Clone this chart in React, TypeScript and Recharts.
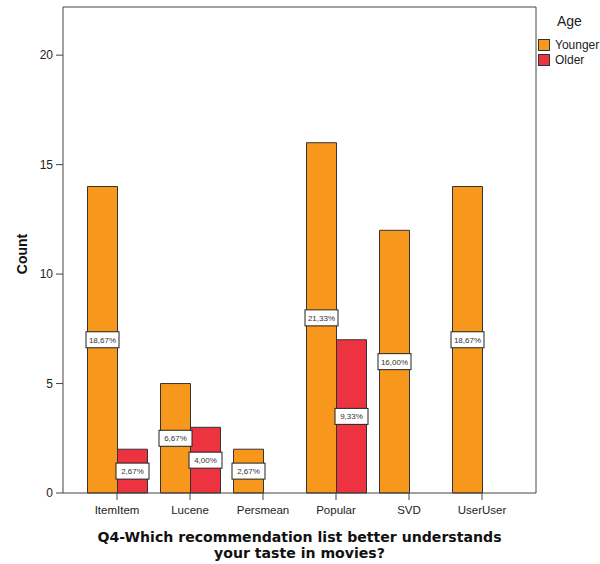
import { Bar, BarChart, Label, LabelList, Legend, XAxis, YAxis } from "recharts";

const categories = ["ItemItem", "Lucene", "Persmean", "Popular", "SVD", "UserUser"];
const younger = [14, 5, 2, 16, 12, 14];
const older = [2, 3, null, 7, null, null];
const youngerPct = ["18,67%", "6,67%", "2,67%", "21,33%", "16,00%", "18,67%"];
const olderPct = ["2,67%", "4,00%", null, "9,33%", null, null];
const yTicks = [0, 5, 10, 15, 20];

const ORANGE = "#F7981D";
const RED = "#EE3340";
const LINE = "#444";
const SANS = "'Liberation Sans', Arial, sans-serif";

const data = categories.map((name, i) => ({
  name,
  younger: younger[i],
  older: older[i],
  youngerPct: youngerPct[i],
  olderPct: olderPct[i]
}));

function BoxLabel(props: any) {
  const { x, y, width, height, value } = props;
  if (value == null) return null;
  const cx = Number(x) + Number(width) / 2;
  const cy = Number(y) + Number(height) / 2;
  return (
    <g>
      <rect x={cx - 16.5} y={cy - 8} width={33} height={16} fill="#fff" stroke="#222" strokeWidth={1} />
      <text x={cx} y={cy + 3} textAnchor="middle" fontSize={8} fill="#333" fontFamily={SANS}>
        {value}
      </text>
    </g>
  );
}

function XTitle(props: any) {
  const { x, width } = props.viewBox;
  const cx = x + width / 2;
  return (
    <text textAnchor="middle" fontFamily="'DejaVu Sans', Verdana, sans-serif" fontWeight="bold" fontSize={14.1} fill="#111">
      <tspan x={cx} y={542}>Q4-Which recommendation list better understands</tspan>
      <tspan x={cx} y={558}>your taste in movies?</tspan>
    </text>
  );
}

function YTitle(props: any) {
  const { y, height } = props.viewBox;
  return (
    <text
      transform={`translate(27,${y + height / 2 + 4}) rotate(-90)`}
      textAnchor="middle"
      fontFamily={SANS}
      fontWeight="bold"
      fontSize={14}
      fill="#111"
    >
      Count
    </text>
  );
}

function AgeLegend() {
  const items = [
    { label: "Younger", color: ORANGE },
    { label: "Older", color: RED }
  ];
  return (
    <div style={{ position: "relative", width: 63, height: 80, fontFamily: SANS, color: "#222" }}>
      <div style={{ position: "absolute", left: 20, top: 8, fontSize: 14, lineHeight: "14px" }}>Age</div>
      {items.map((it, i) => (
        <div key={it.label}>
          <div
            style={{
              position: "absolute",
              left: 1,
              top: 33 + i * 15,
              width: 12,
              height: 12,
              boxSizing: "border-box",
              border: "1px solid #333",
              background: it.color
            }}
          />
          <div style={{ position: "absolute", left: 18, top: 33 + i * 15, fontSize: 12, lineHeight: "12px", whiteSpace: "nowrap" }}>
            {it.label}
          </div>
        </div>
      ))}
    </div>
  );
}

export default function App() {
  return (
    <div style={{ position: "absolute", left: 0, top: 0, width: 600, height: 564, background: "#fff" }}>
      <BarChart width={600} height={564} data={data} margin={{ top: 6, right: 0, bottom: 0, left: 0 }} barSize={30} barGap={0}>
        <XAxis
          dataKey="name"
          height={71}
          padding={{ left: 17.5, right: 17.5 }}
          tickSize={7}
          tickMargin={6}
          stroke={LINE}
          tick={{ fill: "#222", fontSize: 11.5, fontFamily: SANS }}
        >
          <Label content={XTitle} />
        </XAxis>
        <XAxis xAxisId="top" orientation="top" dataKey="name" height={1} tick={false} tickLine={false} stroke={LINE} />
        <YAxis
          width={63}
          domain={[0, 22.2]}
          ticks={yTicks}
          tickSize={7}
          tickMargin={3}
          stroke={LINE}
          tick={{ fill: "#222", fontSize: 12, fontFamily: SANS }}
        >
          <Label content={YTitle} />
        </YAxis>
        <YAxis yAxisId="right" orientation="right" width={1} domain={[0, 22.2]} tick={false} tickLine={false} stroke={LINE} />
        <Legend layout="vertical" align="right" verticalAlign="top" width={63} height={80} content={() => <AgeLegend />} />
        <Bar dataKey="younger" name="Younger" fill={ORANGE} stroke="#333" strokeWidth={1} isAnimationActive={false}>
          <LabelList dataKey="youngerPct" content={BoxLabel} />
        </Bar>
        <Bar dataKey="older" name="Older" fill={RED} stroke="#333" strokeWidth={1} isAnimationActive={false}>
          <LabelList dataKey="olderPct" content={BoxLabel} />
        </Bar>
      </BarChart>
    </div>
  );
}
